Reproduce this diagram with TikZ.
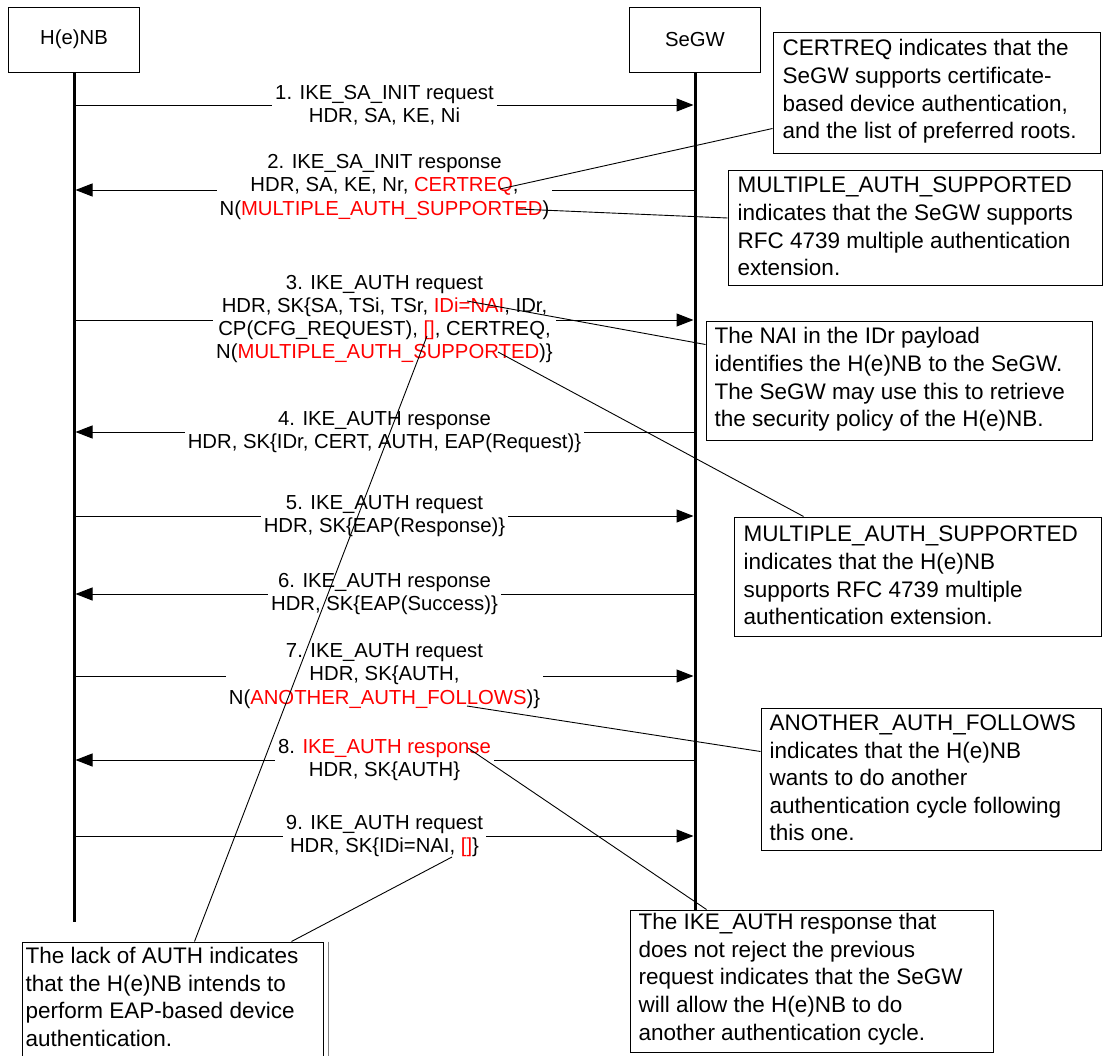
\documentclass[tikz,border=0pt]{standalone}
\usepackage{fontspec}
\setmainfont{Liberation Sans}
\usetikzlibrary{arrows.meta,calc}
\newcommand\redtxt[1]{\textcolor{red}{#1}}
\begin{document}
\begin{tikzpicture}[x=1pt,y=-1pt,
  every node/.style={font=\fontsize{20.3}{23.3}\selectfont},
  actor/.style={draw,line width=1pt,minimum width=131pt,minimum height=65pt,inner sep=0pt},
  life/.style={line width=3pt},
  msg/.style={line width=1pt,shorten >=1.5pt,-{Triangle[length=17pt,width=13pt]}},
  lbl/.style={fill=white,align=center,inner xsep=3pt,inner ysep=1pt},
  notebox/.style={draw,fill=white,line width=1pt,inner sep=0pt},
  notetext/.style={anchor=west,align=left,inner sep=0pt,font=\fontsize{22.5}{27.6}\selectfont},
  lead/.style={line width=0.9pt}]

\clip (0,0) rectangle (1103,1055);
\fill[white] (0,0) rectangle (1103,1055);

% participants
\node[actor] (hen)  at (74,39.5)  {H(e)NB};
\node[actor] (segw) at (695,39.5) {SeGW};

% lifelines
\coordinate (henEnd)  at (74,922);
\coordinate (segwEnd) at (695,922);
\draw[life] (hen.south) -- (henEnd);
\draw[life] (segw.south) -- (segwEnd);

% message rows
\coordinate (r1) at (0,105);
\coordinate (r2) at (0,190);
\coordinate (r3) at (0,320);
\coordinate (r4) at (0,432);
\coordinate (r5) at (0,516);
\coordinate (r6) at (0,594);
\coordinate (r7) at (0,676);
\coordinate (r8) at (0,760);
\coordinate (r9) at (0,836);

\draw[msg] (hen.south |- r1) -- (segw.south |- r1)
  node[lbl,midway] (m1) {1. IKE\_SA\_INIT request\\HDR, SA, KE, Ni};
\draw[msg] (segw.south |- r2) -- (hen.south |- r2)
  node[lbl,midway,yshift=3pt] (m2) {2. IKE\_SA\_INIT response\\HDR, SA, KE, Nr, \redtxt{CERTREQ},\\N(\redtxt{MULTIPLE\_AUTH\_SUPPORTED})};
\draw[msg] (hen.south |- r3) -- (segw.south |- r3)
  node[lbl,midway,yshift=1pt] (m3) {3. IKE\_AUTH request\\HDR, SK\{SA, TSi, TSr, \redtxt{IDi=NAI}, IDr,\\CP(CFG\_REQUEST), \redtxt{[]}, CERTREQ,\\N(\redtxt{MULTIPLE\_AUTH\_SUPPORTED})\}};
\draw[msg] (segw.south |- r4) -- (hen.south |- r4)
  node[lbl,midway] (m4) {4. IKE\_AUTH response\\HDR, SK\{IDr, CERT, AUTH, EAP(Request)\}};
\draw[msg] (hen.south |- r5) -- (segw.south |- r5)
  node[lbl,midway] (m5) {5. IKE\_AUTH request\\HDR, SK\{EAP(Response)\}};
\draw[msg] (segw.south |- r6) -- (hen.south |- r6)
  node[lbl,midway] (m6) {6. IKE\_AUTH response\\HDR, SK\{EAP(Success)\}};
\draw[msg] (hen.south |- r7) -- (segw.south |- r7)
  node[lbl,midway] (m7) {7. IKE\_AUTH request\\HDR, SK\{AUTH,\\N(\redtxt{ANOTHER\_AUTH\_FOLLOWS})\}};
\draw[msg] (segw.south |- r8) -- (hen.south |- r8)
  node[lbl,midway] (m8) {8. \redtxt{IKE\_AUTH response}\\HDR, SK\{AUTH\}};
\draw[msg] (hen.south |- r9) -- (segw.south |- r9)
  node[lbl,midway] (m9) {9. IKE\_AUTH request\\HDR, SK\{IDi=NAI, \redtxt{[]}\}};

% note boxes
\node[notebox,minimum width=327pt,minimum height=121pt] (n1) at (936.5,92.5) {};
\node[notebox,minimum width=374pt,minimum height=115pt] (n2) at (915,227.5) {};
\node[notebox,minimum width=386pt,minimum height=119pt] (n3) at (899,380.5) {};
\node[notebox,minimum width=367pt,minimum height=119pt] (n4) at (917.5,576.5) {};
\node[notebox,minimum width=340pt,minimum height=142pt] (n5) at (931,779) {};
\node[notebox,minimum width=363pt,minimum height=142pt] (n6) at (811.5,981) {};
\node[notebox,minimum width=301pt,minimum height=124pt] (n7) at (172.5,1004) {};
\draw[gray,line width=0.8pt] ([xshift=5pt]n7.north east) -- ([xshift=5pt]n7.south east);

% note texts
\node[notetext] (t1) at ([xshift=10pt,yshift=1pt]n1.west)
  {CERTREQ indicates that the\\SeGW supports certificate-\\based device authentication,\\and the list of preferred roots.};
\node[notetext] (t2) at ([xshift=10pt,yshift=1pt]n2.west)
  {MULTIPLE\_AUTH\_SUPPORTED\\indicates that the SeGW supports\\RFC 4739 multiple authentication\\extension.};
\node[notetext] (t3) at ([xshift=9pt,yshift=1pt]n3.west)
  {The NAI in the IDr payload\\identifies the H(e)NB to the SeGW.\\The SeGW may use this to retrieve\\the security policy of the H(e)NB.};
\node[notetext] (t4) at ([xshift=10pt,yshift=1pt]n4.west)
  {MULTIPLE\_AUTH\_SUPPORTED\\indicates that the H(e)NB\\supports RFC 4739 multiple\\authentication extension.};
\node[notetext] (t5) at ([xshift=9pt,yshift=1pt]n5.west)
  {ANOTHER\_AUTH\_FOLLOWS\\indicates that the H(e)NB\\wants to do another\\authentication cycle following\\this one.};
\node[notetext] (t6) at ([xshift=9pt,yshift=2pt]n6.west)
  {The IKE\_AUTH response that\\does not reject the previous\\request indicates that the SeGW\\will allow the H(e)NB to do\\another authentication cycle.};
\node[notetext] (t7) at ([xshift=4pt,yshift=7pt]n7.west)
  {The lack of AUTH indicates\\that the H(e)NB intends to\\perform EAP-based device\\authentication.};

% anchor points inside the message texts
\coordinate (c1) at (500,189);
\coordinate (c2) at (518,209);
\coordinate (c3) at (467,301);
\coordinate (c4) at (498,352);
\coordinate (c5) at (427,336);
\coordinate (c6) at (467,706);
\coordinate (c7) at (468,748);
\coordinate (c8) at (452,857);

% leader lines
\draw[lead] (c1) -- ([yshift=25pt]n1.south west);
\draw[lead] (c2) -- ([yshift=9.5pt]n2.west);
\draw[lead] (c3) -- ([yshift=-24pt]n3.north west);
\draw[lead] (c4) -- ([xshift=70pt]n4.north west);
\draw[lead] (c5) -- ([xshift=173pt]n7.north west);
\draw[lead] (c6) -- ([yshift=-44pt]n5.north west);
\draw[lead] (c7) -- ([xshift=77pt]n6.north west);
\draw[lead] (c8) -- ([xshift=270pt]n7.north west);
\end{tikzpicture}
\end{document}
